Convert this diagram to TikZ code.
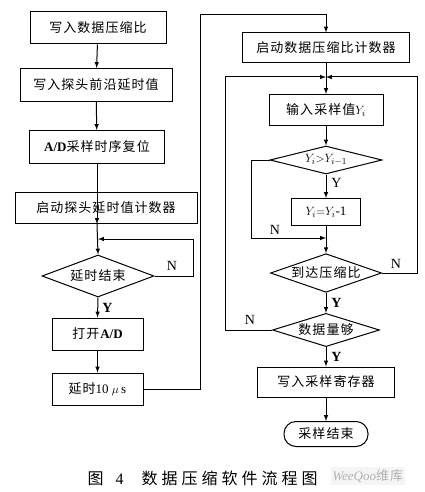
\documentclass[tikz,border=0pt]{standalone}
\usepackage{fontspec}
\setmainfont{Liberation Serif}
\newfontfamily\cjk[LetterSpace=8]{Noto Sans CJK SC}
\newfontfamily\cjkcap[LetterSpace=25]{Noto Sans CJK SC}
\usetikzlibrary{shapes.geometric}
\newcommand{\zh}[1]{{\cjk #1}}

\tikzset{every picture/.style={line width=1pt}}
\tikzset{
  flowbox/.style={draw, rectangle, inner sep=0pt, font=\fontsize{13}{15}\selectfont},
  flowtest/.style={draw, diamond, aspect=2.6, inner sep=0pt, font=\fontsize{13}{15}\selectfont},
  flowend/.style={draw, rectangle, rounded corners=12pt, inner sep=0pt, font=\fontsize{13}{15}\selectfont},
  flowtag/.style={inner sep=0.75pt, font=\fontsize{14}{15}\selectfont},
  flow/.style={-latex}
}

\begin{document}
\begin{tikzpicture}[x=1pt,y=1pt,yscale=-1,xscale=1]
\useasboundingbox (0,0) rectangle (425,492);

%Left column
\node [flowbox, minimum width=136, minimum height=32] (wrt) at (98,28) {\zh{写入数据压缩比}};
\node [flowbox, minimum width=152, minimum height=33] (dly) at (96,85) {\zh{写入探头前沿延时值}};
\node [flowbox, minimum width=135, minimum height=33] (rst) at (97,147) {\textbf{A/D}\zh{采样时序复位}};
\node [flowbox, minimum width=182, minimum height=31] (cnt) at (106,208) {\zh{启动探头延时值计数器}};
\node [flowtest, minimum width=112, minimum height=42] (tend) at (98,276) {\zh{延时结束}};
\node [flowbox, minimum width=91, minimum height=32] (open) at (97.5,334) {\zh{打开}\textbf{A/D}};
\node [flowbox, minimum width=91, minimum height=32] (wait) at (97.5,389) {\zh{延时}10 $\mu$\,s};

%Right column
\node [flowbox, minimum width=167, minimum height=30] (start) at (326,48) {\zh{启动数据压缩比计数器}};
\node [flowbox, minimum width=114, minimum height=31] (inp) at (326,110) {\zh{输入采样值}$Y_i$};
\node [flowtest, minimum width=112, minimum height=28] (cmp) at (326,160) {$Y_i{>}Y_{i-1}$};
\node [flowbox, minimum width=69, minimum height=27] (dec) at (326,212) {$Y_i{=}Y_i$-1};
\node [flowtest, minimum width=111, minimum height=35] (ratio) at (326,273) {\zh{到达压缩比}};
\node [flowtest, minimum width=107, minimum height=30] (enough) at (326,330) {\zh{数据量够}};
\node [flowbox, minimum width=137, minimum height=30] (store) at (326,382) {\zh{写入采样寄存器}};
\node [flowend, minimum width=84, minimum height=25] (stop) at (326,434) {\zh{采样结束}};

%Junctions
\coordinate (jl) at (98,239);
\coordinate (jtop) at (326,15);
\coordinate (jr) at (326,77);
\coordinate (jc) at (326,238);

%Left connectors
\draw [flow] (wrt) -- (dly);
\draw [flow] (dly) -- (rst);
\draw [flow] (rst) -- (cnt.south -| rst);
\draw [flow] (cnt.south -| rst) -- (tend.north);
\draw [flow] (tend.east) -- ++(39,0) |- (jl);
\draw [flow] (tend.south) -- (open.north);
\draw [flow] (open) -- (wait);
\draw [flow] (wait.east) -- ++(56.5,0) |- (jtop) -- (start.north);

%Right connectors
\draw [flow] (start.south) -- (inp.north);
\draw [flow] (enough.west) -- ++(-47,0) |- (jr);
\draw [flow] (ratio.east) -- ++(35.5,0) |- (jr);
\draw [flow] (inp) -- (cmp);
\draw [flow] (cmp) -- (dec);
\draw [flow] (cmp.west) -- ++(-18,0) |- (jc);
\draw [flow] (dec) -- (ratio);
\draw [flow] (ratio) -- (enough);
\draw [flow] (enough) -- (store);
\draw [flow] (store) -- (stop);

% Text Node
\node [flowtag, anchor=south] (n1) at (172,272) {N};
\node [flowtag, anchor=west] (y1) at (101,308) {\textbf{Y}};
\node [flowtag, anchor=west] (y2) at (330,183) {Y};
\node [flowtag, anchor=south] (n2) at (275,236) {N};
\node [flowtag, anchor=south] (n3) at (396,270) {N};
\node [flowtag, anchor=west] (y3) at (330,303) {\textbf{Y}};
\node [flowtag, anchor=south] (n4) at (250,326) {N};
\node [flowtag, anchor=west] (y4) at (330,357) {\textbf{Y}};

% Caption
\node [anchor=west, inner sep=0pt, font=\fontsize{16}{18}\selectfont] (cap) at (87,478) {\zh{图}\hspace{12pt}4\hspace{18pt}{\cjkcap 数据压缩软件流程图}};
\node [anchor=west, inner sep=2pt, fill=black!4, text=black!30, font=\fontsize{13}{15}\selectfont\itshape] (mark) at (330,476) {WeeQoo\zh{维库}};

\end{tikzpicture}
\end{document}
